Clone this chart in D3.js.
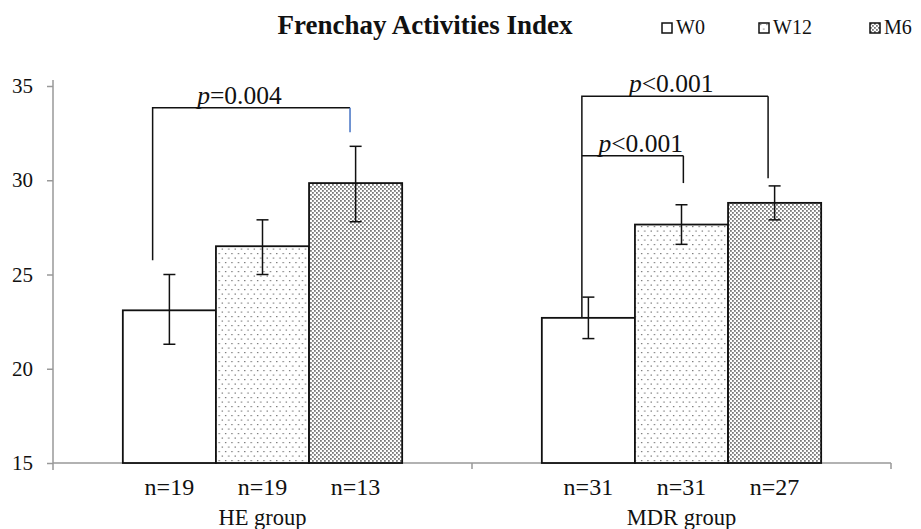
<!DOCTYPE html>
<html>
<head>
<meta charset="utf-8">
<script src="https://cdn.jsdelivr.net/npm/d3@7"></script>
<style>
  body { margin: 0; background: #fff; }
  svg text { font-family: "Liberation Serif", "Times New Roman", serif !important; fill: #111; }
</style>
</head>
<body>
<svg width="921" height="529"></svg>
<script>
// data
const groups = ["HE group", "MDR group"];
const series = ["W0", "W12", "M6"];
const means = [[23.1, 26.5, 29.85], [22.7, 27.65, 28.8]];
const errLow = [[21.3, 25.0, 27.8], [21.6, 26.6, 27.9]];
const errHigh = [[25.0, 27.9, 31.8], [23.8, 28.7, 29.7]];
const counts = [["n=19", "n=19", "n=13"], ["n=31", "n=31", "n=27"]];
const yTicks = [15, 20, 25, 30, 35];

// significance brackets: group, from/to series, leg ends, top level, label
const brackets = [
  { g: 0, from: 0, fromFrac: 0.32, fromY: 25.75, to: 2, toFrac: 0.44, toY: 32.55, level: 33.85, op: "=", p: "0.004", labelAt: 0.44, rightColor: "#4472c4" },
  { g: 1, from: 0, fromFrac: 0.43, fromY: 22.7, to: 2, toFrac: 0.43, toY: 30.1, level: 34.45, op: "<", p: "0.001", labelAt: 0.48, rightColor: "#111" },
  { g: 1, from: 0, fromFrac: 0.43, fromY: 31.3, to: 1, toFrac: 0.52, toY: 29.85, level: 31.3, op: "<", p: "0.001", labelAt: 0.58, rightColor: "#111" }
];

const svg = d3.select("svg");
const mLeft = 53, mRight = 891, mTop = 86, mBottom = 463;
const serif = "'Liberation Serif', 'Times New Roman', serif";

// patterns for the bars
const defs = svg.append("defs");
const sparse = defs.append("pattern").attr("id", "pat-W12")
  .attr("patternUnits", "userSpaceOnUse").attr("width", 6.4).attr("height", 9);
sparse.append("rect").attr("width", 6.4).attr("height", 9).attr("fill", "#fff");
sparse.append("rect").attr("x", 1).attr("y", 1).attr("width", 1.2).attr("height", 1.2).attr("fill", "#666");
sparse.append("rect").attr("x", 4.2).attr("y", 5.5).attr("width", 1.2).attr("height", 1.2).attr("fill", "#666");

const dense = defs.append("pattern").attr("id", "pat-M6")
  .attr("patternUnits", "userSpaceOnUse").attr("width", 4).attr("height", 4);
dense.append("rect").attr("width", 4).attr("height", 4).attr("fill", "#fff");
dense.append("rect").attr("x", 0).attr("y", 0).attr("width", 1.8).attr("height", 1.8).attr("fill", "#7a7a7a");
dense.append("rect").attr("x", 2).attr("y", 2).attr("width", 1.8).attr("height", 1.8).attr("fill", "#7a7a7a");

const fills = { W0: "#fff", W12: "url(#pat-W12)", M6: "url(#pat-M6)" };

// scales
const x0 = d3.scaleBand().domain(groups).range([mLeft, mRight]);
const x1 = d3.scaleBand().domain(series).range([0, x0.bandwidth()])
  .paddingInner(0).paddingOuter(0.75);
const y = d3.scaleLinear().domain([15, 35]).range([mBottom, mTop]);

// axes
const yAxis = svg.append("g").attr("transform", `translate(${mLeft},0)`)
  .call(d3.axisLeft(y).tickValues(yTicks).tickSize(6).tickPadding(14));
yAxis.attr("font-family", null);
yAxis.select(".domain").remove();
yAxis.selectAll(".tick line").attr("stroke", "#999").attr("stroke-width", 1.5);
yAxis.selectAll(".tick text").style("font-size", "21px").style("font-family", serif).attr("fill", "#222");
svg.append("line").attr("x1", mLeft).attr("x2", mLeft).attr("y1", mTop - 6).attr("y2", mBottom + 7)
  .attr("stroke", "#999").attr("stroke-width", 1.5);
svg.append("line").attr("x1", mLeft).attr("x2", mRight).attr("y1", mBottom).attr("y2", mBottom)
  .attr("stroke", "#999").attr("stroke-width", 1.5);
// group separator ticks
[x0.range()[0] + x0.bandwidth(), mRight].forEach(xx => {
  svg.append("line").attr("x1", xx).attr("x2", xx).attr("y1", mBottom).attr("y2", mBottom + 6)
    .attr("stroke", "#999").attr("stroke-width", 1.5);
});

// bars
const rows = [];
groups.forEach((g, gi) => series.forEach((s, si) => rows.push({
  g, s, v: means[gi][si], lo: errLow[gi][si], hi: errHigh[gi][si], n: counts[gi][si]
})));

svg.selectAll("rect.bar").data(rows).enter().append("rect")
  .attr("class", "bar")
  .attr("x", d => x0(d.g) + x1(d.s))
  .attr("y", d => y(d.v))
  .attr("width", x1.bandwidth())
  .attr("height", d => y(15) - y(d.v))
  .attr("fill", d => fills[d.s])
  .attr("stroke", "#111").attr("stroke-width", 1.8);

// error bars
const cx = d => x0(d.g) + x1(d.s) + x1.bandwidth() / 2;
const eb = svg.selectAll("g.err").data(rows).enter().append("g").attr("class", "err")
  .attr("stroke", "#111").attr("stroke-width", 1.5);
eb.append("line").attr("x1", cx).attr("x2", cx).attr("y1", d => y(d.lo)).attr("y2", d => y(d.hi));
eb.append("line").attr("x1", d => cx(d) - 6).attr("x2", d => cx(d) + 6).attr("y1", d => y(d.lo)).attr("y2", d => y(d.lo));
eb.append("line").attr("x1", d => cx(d) - 6).attr("x2", d => cx(d) + 6).attr("y1", d => y(d.hi)).attr("y2", d => y(d.hi));

// n labels and group labels
svg.selectAll("text.n").data(rows).enter().append("text")
  .attr("class", "n").attr("x", cx).attr("y", 495)
  .attr("text-anchor", "middle").style("font-family", serif).style("font-size", "24px").text(d => d.n);
svg.selectAll("text.grp").data(groups).enter().append("text")
  .attr("x", d => x0(d) + x0.bandwidth() / 2).attr("y", 525)
  .attr("text-anchor", "middle").style("font-family", serif).style("font-size", "22.5px").text(d => d);

// significance brackets
brackets.forEach(b => {
  const g = groups[b.g];
  const xa = x0(g) + x1(series[b.from]) + b.fromFrac * x1.bandwidth();
  const xb = x0(g) + x1(series[b.to]) + b.toFrac * x1.bandwidth();
  svg.append("path")
    .attr("d", `M${xa},${y(b.fromY)}V${y(b.level)}H${xb}`)
    .attr("fill", "none").attr("stroke", "#111").attr("stroke-width", 1.5);
  svg.append("line").attr("x1", xb).attr("x2", xb).attr("y1", y(b.level)).attr("y2", y(b.toY))
    .attr("stroke", b.rightColor).attr("stroke-width", 1.5);
  const t = svg.append("text").attr("x", xa + b.labelAt * (xb - xa)).attr("y", y(b.level) - 4)
    .attr("text-anchor", "middle").style("font-family", serif).style("font-size", "25.5px");
  t.append("tspan").attr("font-style", "italic").text("p");
  t.append("tspan").text(b.op + b.p);
});

// title
svg.append("text").attr("x", 425).attr("y", 34).attr("text-anchor", "middle")
  .style("font-family", serif).style("font-size", "27px").style("font-weight", "bold")
  .text("Frenchay Activities Index");

// legend
const legendX = [662, 759, 870];
const lg = svg.selectAll("g.legend").data(series).enter().append("g")
  .attr("transform", (d, i) => `translate(${legendX[i]},23)`);
lg.append("rect").attr("width", 10).attr("height", 10)
  .attr("fill", d => fills[d]).attr("stroke", "#111").attr("stroke-width", 1.5);
lg.append("text").attr("x", 14).attr("y", 11).style("font-family", serif).style("font-size", "20px").text(d => d);
</script>
</body>
</html>
